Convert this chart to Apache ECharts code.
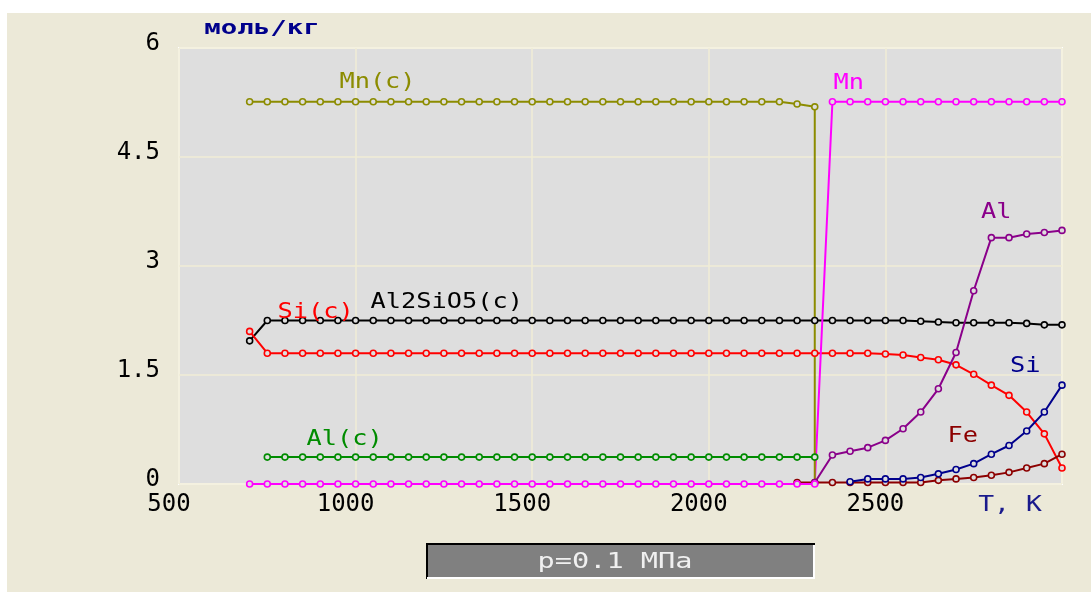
<!DOCTYPE html>
<html>
<head>
<meta charset="utf-8">
<script src="https://cdn.jsdelivr.net/npm/echarts@6/dist/echarts.min.js"></script>
<style>
    html, body { margin: 0; padding: 0; background: #fff; }
    #frame { position: absolute; left: 7px; top: 13px; width: 1084px; height: 579px; background: #ECE9D8; }
    #main { position: absolute; left: 0; top: 0; width: 1091px; height: 592px; }
</style>
</head>
<body>
<div id="frame"></div>
<div id="main"></div>
<script>
// температура, K
var temps = [700, 750, 800, 850, 900, 950, 1000, 1050, 1100, 1150, 1200, 1250, 1300, 1350, 1400, 1450,
    1500, 1550, 1600, 1650, 1700, 1750, 1800, 1850, 1900, 1950, 2000, 2050, 2100, 2150, 2200, 2250,
    2300, 2350, 2400, 2450, 2500, 2550, 2600, 2650, 2700, 2750, 2800, 2850, 2900, 2950, 3000];

// моль/кг, по точкам temps (null - фазы нет)
var mnC = [5.26, 5.26, 5.26, 5.26, 5.26, 5.26, 5.26, 5.26, 5.26, 5.26, 5.26, 5.26, 5.26, 5.26, 5.26, 5.26,
    5.26, 5.26, 5.26, 5.26, 5.26, 5.26, 5.26, 5.26, 5.26, 5.26, 5.26, 5.26, 5.26, 5.26, 5.26, 5.23,
    5.19, null, null, null, null, null, null, null, null, null, null, null, null, null, null];
var mnCEnd = [2300, 0];   // исчезновение Mn(c)
var mn = [0, 0, 0, 0, 0, 0, 0, 0, 0, 0, 0, 0, 0, 0, 0, 0,
    0, 0, 0, 0, 0, 0, 0, 0, 0, 0, 0, 0, 0, 0, 0, 0,
    0, 5.26, 5.26, 5.26, 5.26, 5.26, 5.26, 5.26, 5.26, 5.26, 5.26, 5.26, 5.26, 5.26, 5.26];
var alC = [null, 0.37, 0.37, 0.37, 0.37, 0.37, 0.37, 0.37, 0.37, 0.37, 0.37, 0.37, 0.37, 0.37, 0.37, 0.37,
    0.37, 0.37, 0.37, 0.37, 0.37, 0.37, 0.37, 0.37, 0.37, 0.37, 0.37, 0.37, 0.37, 0.37, 0.37, 0.37,
    0.37, null, null, null, null, null, null, null, null, null, null, null, null, null, null];
var al2sio5 = [1.97, 2.25, 2.25, 2.25, 2.25, 2.25, 2.25, 2.25, 2.25, 2.25, 2.25, 2.25, 2.25, 2.25, 2.25, 2.25,
    2.25, 2.25, 2.25, 2.25, 2.25, 2.25, 2.25, 2.25, 2.25, 2.25, 2.25, 2.25, 2.25, 2.25, 2.25, 2.25,
    2.25, 2.25, 2.25, 2.25, 2.25, 2.25, 2.24, 2.23, 2.22, 2.22, 2.22, 2.22, 2.21, 2.19, 2.19];
var siC = [2.10, 1.80, 1.80, 1.80, 1.80, 1.80, 1.80, 1.80, 1.80, 1.80, 1.80, 1.80, 1.80, 1.80, 1.80, 1.80,
    1.80, 1.80, 1.80, 1.80, 1.80, 1.80, 1.80, 1.80, 1.80, 1.80, 1.80, 1.80, 1.80, 1.80, 1.80, 1.80,
    1.80, 1.80, 1.80, 1.80, 1.79, 1.775, 1.74, 1.71, 1.64, 1.51, 1.36, 1.22, 0.99, 0.69, 0.22];
var al = [null, null, null, null, null, null, null, null, null, null, null, null, null, null, null, null,
    null, null, null, null, null, null, null, null, null, null, null, null, null, null, null, null,
    0.02, 0.40, 0.45, 0.50, 0.60, 0.76, 0.99, 1.31, 1.81, 2.66, 3.39, 3.39, 3.44, 3.46, 3.49];
var si = [null, null, null, null, null, null, null, null, null, null, null, null, null, null, null, null,
    null, null, null, null, null, null, null, null, null, null, null, null, null, null, null, null,
    null, null, 0.03, 0.07, 0.07, 0.07, 0.09, 0.14, 0.20, 0.28, 0.41, 0.53, 0.73, 0.99, 1.36];
var fe = [null, null, null, null, null, null, null, null, null, null, null, null, null, null, null, null,
    null, null, null, null, null, null, null, null, null, null, null, null, null, null, null, 0.02,
    0.02, 0.02, 0.02, 0.02, 0.02, 0.02, 0.02, 0.05, 0.07, 0.09, 0.12, 0.16, 0.22, 0.28, 0.41];

// подписи кривых: текст и точка (T, моль/кг)
var curveNames = ['Mn(c)', 'Mn', 'Al', 'Al2SiO5(c)', 'Si(c)', 'Si', 'Fe', 'Al(c)'];
var curveNameAt = [[1062, 5.53], [2396, 5.51], [2814, 3.74], [1258, 2.50], [887, 2.36], [2896, 1.62], [2719, 0.66], [969, 0.62]];

var colors = {
    'Mn(c)': '#8C8C00',
    'Mn': '#FF00FF',
    'Al': '#8A008A',
    'Al2SiO5(c)': '#000000',
    'Si(c)': '#FF0000',
    'Si': '#00008C',
    'Fe': '#8C0000',
    'Al(c)': '#008C00'
};

var monoFont = '"DejaVu Sans Mono", "Liberation Mono", monospace';

function pairs(vals, extra) {
    var out = [];
    for (var i = 0; i < temps.length; i++) {
        if (vals[i] !== null) out.push([temps[i], vals[i]]);
    }
    if (extra) out.push({value: extra, symbol: 'none'});
    return out;
}

function makeSeries(name, data) {
    return {
        name: name,
        type: 'line',
        data: data,
        symbol: 'circle',
        symbolSize: 6,
        showAllSymbol: true,
        lineStyle: {color: colors[name], width: 2},
        itemStyle: {color: '#DEDEDE', borderColor: colors[name], borderWidth: 1.6},
        emphasis: {disabled: true}
    };
}

var myChart = echarts.init(document.getElementById('main'), null, {renderer: 'canvas'});

var option = {
    animation: false,
    grid: {
        left: 179, right: 29, top: 48, bottom: 108,
        show: true,
        backgroundColor: '#DEDEDE',
        borderColor: '#FFFFFF',
        borderWidth: 2
    },
    xAxis: {
        type: 'value',
        min: 500, max: 3000, interval: 500,
        axisLine: {show: false},
        axisTick: {show: false},
        splitLine: {show: true, lineStyle: {color: '#F1EDD6', width: 1.5}},
        axisLabel: {
            color: '#000',
            fontFamily: monoFont,
            fontSize: 24,
            margin: 9,
            padding: [0, 20, 0, 0],
            formatter: function (v) {
                return v === 3000 ? '' : String(v);
            }
        }
    },
    yAxis: {
        type: 'value',
        min: 0, max: 6, interval: 1.5,
        axisLine: {show: false},
        axisTick: {show: false},
        splitLine: {show: true, lineStyle: {color: '#F1EDD6', width: 1.5}},
        axisLabel: {
            color: '#000',
            fontFamily: monoFont,
            fontSize: 24,
            margin: 19,
            verticalAlign: 'bottom',
            lineHeight: 8
        }
    },
    series: [
        makeSeries('Al2SiO5(c)', pairs(al2sio5)),
        makeSeries('Si(c)', pairs(siC)),
        makeSeries('Al(c)', pairs(alC)),
        makeSeries('Fe', pairs(fe)),
        makeSeries('Si', pairs(si)),
        makeSeries('Al', pairs(al)),
        makeSeries('Mn', pairs(mn)),
        makeSeries('Mn(c)', pairs(mnC, mnCEnd))
    ]
};

myChart.setOption(option);

// подписи кривых ставим по координатам графика
var graphics = [];
for (var i = 0; i < curveNames.length; i++) {
    var p = myChart.convertToPixel({gridIndex: 0}, curveNameAt[i]);
    graphics.push({
        type: 'text',
        x: p[0], y: p[1],
        scaleX: 1.15,
        z: 100,
        style: {
            text: curveNames[i],
            fill: colors[curveNames[i]],
            font: '22px ' + monoFont,
            align: 'center',
            verticalAlign: 'middle'
        }
    });
}

// единицы осей
graphics.push({
    type: 'text', x: 262, y: 29, scaleX: 1.37, z: 100,
    style: {text: 'моль/кг', fill: '#00008C', font: 'bold 20px ' + monoFont, align: 'center', verticalAlign: 'middle'}
});
graphics.push({
    type: 'text', x: 1010, y: 505, scaleX: 1.2, z: 100,
    style: {text: 'T, K', fill: '#1A1A8C', font: '22px ' + monoFont, align: 'center', verticalAlign: 'middle'}
});

// плашка с давлением
graphics.push({
    type: 'rect', z: 100,
    shape: {x: 426, y: 543, width: 389, height: 36},
    style: {fill: '#808080'}
});
graphics.push({
    type: 'polyline', z: 101,
    shape: {points: [[427, 579], [427, 544], [815, 544]]},
    style: {stroke: '#000', lineWidth: 2, fill: null}
});
graphics.push({
    type: 'polyline', z: 101,
    shape: {points: [[427, 578], [814, 578], [814, 545]]},
    style: {stroke: '#FFFFFF', lineWidth: 2, fill: null}
});
graphics.push({
    type: 'text', x: 615, y: 562, scaleX: 1.3, z: 102,
    style: {text: 'p=0.1 МПа', fill: '#F0F0F0', font: '22px ' + monoFont, align: 'center', verticalAlign: 'middle'}
});

myChart.setOption({graphic: graphics});
</script>
</body>
</html>
